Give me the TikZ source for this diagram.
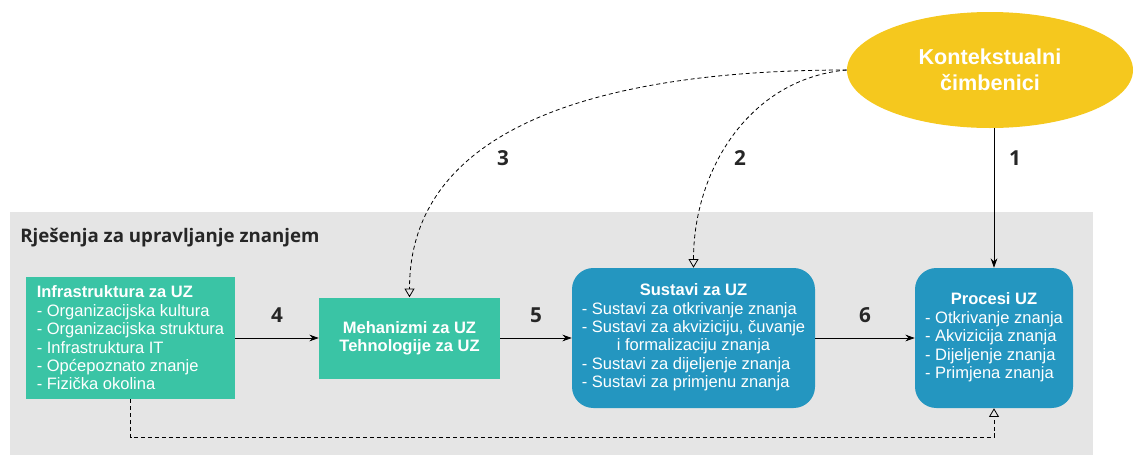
\documentclass[tikz,border=0pt]{standalone}
\usepackage{fontspec}
\setmainfont{Liberation Sans}
\newfontfamily\opensans{Open Sans}
\usetikzlibrary{positioning}
\usetikzlibrary{arrows.meta}
\usetikzlibrary{shapes.geometric}
\usepackage{xcolor}
\definecolor{kmgreen}{RGB}{58,196,165}
\definecolor{kmblue}{RGB}{36,150,192}
\definecolor{kmyellow}{RGB}{245,200,30}
\definecolor{kmgray}{RGB}{229,229,229}

\begin{document}
\begin{tikzpicture}[x=0.75pt, y=-0.75pt,
  boxtext/.style={text=white, font=\fontsize{12.4}{13.8}\selectfont, inner sep=0pt},
  greenbox/.style={boxtext, fill=kmgreen},
  bluebox/.style={boxtext, fill=kmblue, rounded corners=16pt},
  numlbl/.style={font=\opensans\bfseries\fontsize{15.5}{17}\selectfont, text=black!85},
  flow/.style={-{Stealth[length=7pt,width=5pt]}, line width=0.6pt},
  influence/.style={-{Triangle[open,length=6.5pt,width=7.5pt]}, line width=0.6pt, dash pattern=on 3pt off 2.2pt}]

\useasboundingbox (0,0) rectangle (1135,457);
\fill[kmgray] (10,212) rectangle (1093,455);

\node[right, inner sep=0pt, font=\opensans\bfseries\fontsize{14}{16}\selectfont, text=black!85] (title) at (20,238) {Rješenja za upravljanje znanjem};

% kontekst
\node[ellipse, fill=kmyellow, minimum width=214.5pt, minimum height=87pt, text=white, align=center,
  font=\bfseries\fontsize{16.2}{19.5}\selectfont] (ctx) at (990,70) {Kontekstualni\\čimbenici};

% rjesenja
\node[greenbox, minimum width=156.75pt, minimum height=91.5pt, align=left] (infra) at (130.5,338)
  {\textbf{Infrastruktura za UZ}\\- Organizacijska kultura\\- Organizacijska struktura\\- Infrastruktura IT\\- Općepoznato znanje\\- Fizička okolina};

\node[greenbox, minimum width=135.75pt, minimum height=60.75pt, align=center] (mech) at (409.5,338)
  {\textbf{Mehanizmi za UZ}\\\textbf{Tehnologije za UZ}};

\node[bluebox, minimum width=182.25pt, minimum height=105pt] (sust) at (693.5,338)
  {\begin{tabular}{@{}l@{}}\multicolumn{1}{@{}c@{}}{\textbf{Sustavi za UZ}}\\
  - Sustavi za otkrivanje znanja\\- Sustavi za akviziciju, čuvanje\\
  \multicolumn{1}{@{}c@{}}{i formalizaciju znanja}\\
  - Sustavi za dijeljenje znanja\\- Sustavi za primjenu znanja\end{tabular}};

\node[bluebox, minimum width=118.5pt, minimum height=105pt] (proc) at (994,338)
  {\begin{tabular}{@{}l@{}}\multicolumn{1}{@{}c@{}}{\textbf{Procesi UZ}}\\
  - Otkrivanje znanja\\- Akvizicija znanja\\- Dijeljenje znanja\\- Primjena znanja\end{tabular}};

% veze
\draw[flow] (ctx.south -| proc.north) -- (proc.north);
\draw[influence] (ctx.west) to[out=180, in=90] (mech.north);
\draw[influence] (ctx.west) to[out=185, in=90] (sust.north);

\draw[flow] (infra) -- node[numlbl, yshift=17.25pt] (n4) {4} (mech);
\draw[flow] (mech) -- node[numlbl, yshift=17.25pt] (n5) {5} (sust);
\draw[flow] (sust) -- node[numlbl, yshift=17.25pt] (n6) {6} (proc);

\draw[influence] (infra.south) -- ++(0,38) -| (proc.south);

\node[numlbl] (n1) at (1015,158) {1};
\node[numlbl] (n2) at (740,158) {2};
\node[numlbl] (n3) at (503,158) {3};

\end{tikzpicture}
\end{document}
